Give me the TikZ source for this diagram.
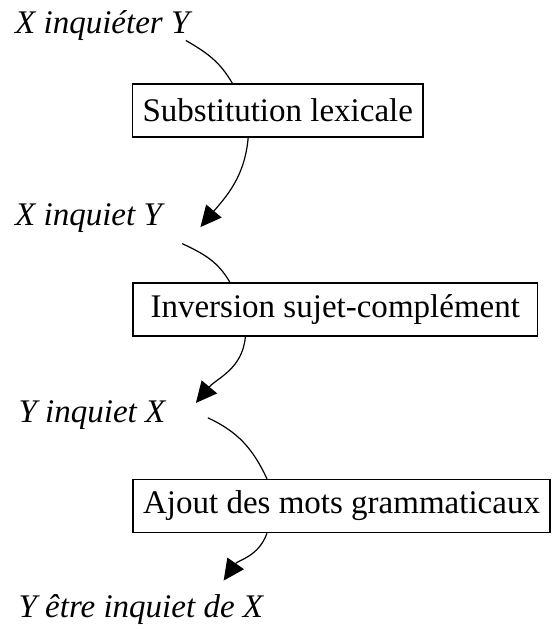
\documentclass[tikz,border=0pt]{standalone}
\usepackage{fontspec}
\setmainfont{Liberation Serif}
\usetikzlibrary{arrows.meta}

\begin{document}
\begin{tikzpicture}[xscale=1, yscale=1,
  phrase/.style={anchor=base west, inner sep=0pt, font=\fontsize{16.5}{19}\selectfont\itshape},
  transfo/.style={draw, line width=0.8pt, inner sep=0pt, minimum height=0.93cm, font=\fontsize{16.5}{19}\selectfont},
  lien/.style={line width=0.6pt},
  >={Triangle[length=10.5pt,width=10pt]}]
\useasboundingbox (0,0) rectangle (9.68,11.05);
%\draw[black, thick] (0,0) rectangle (9.68,11.05);
\node[phrase] (t0) at (0.26,10.47) {X inquiéter Y};
\node[transfo, minimum width=5.11cm] (b1) at (4.88,9.11) {Substitution lexicale};
\node[phrase] (t1) at (0.26,7.08) {X inquiet Y};
\node[transfo, minimum width=7.10cm] (b2) at (5.89,5.61) {Inversion sujet-complément};
\node[phrase] (t2) at (0.32,3.62) {Y inquiet X};
\node[transfo, minimum width=7.33cm] (b3) at (6.00,2.16) {Ajout des mots grammaticaux};
\node[phrase] (t3) at (0.32,0.21) {Y être inquiet de X};
\draw [lien] ([xshift=-0.07cm]t0.south east) to [out=-30, in=120] ([xshift=-0.80cm]b1.north);
\draw [lien, ->] ([xshift=-0.52cm]b1.south) to [out=-95, in=50] ([xshift=0.67cm, yshift=-0.15cm]t1.east);
\draw [lien] ([xshift=0.35cm, yshift=-0.18cm]t1.south east) to [out=-25, in=120] ([xshift=-1.85cm]b2.north);
\draw [lien, ->] ([xshift=-1.58cm]b2.south) to [out=-95, in=50] ([xshift=0.53cm, yshift=-0.04cm]t2.north east);
\draw [lien] ([xshift=0.74cm, yshift=-0.04cm]t2.east) to [out=-25, in=115] ([xshift=-1.31cm]b3.north);
\draw [lien, ->] ([xshift=-1.31cm]b3.south) to [out=-110, in=55] ([xshift=-0.70cm, yshift=0.23cm]t3.north east);
\end{tikzpicture}
\end{document}
